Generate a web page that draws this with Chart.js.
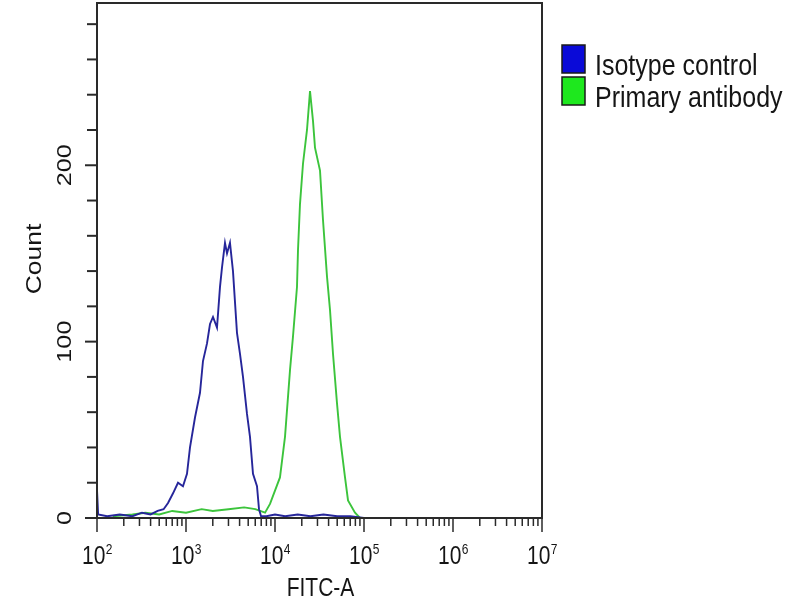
<!DOCTYPE html>
<html>
<head>
<meta charset="utf-8">
<script src="https://cdn.jsdelivr.net/npm/chart.js@4"></script>
<style>
  body { margin: 0; background: #fff; }
  canvas { display: block; }
</style>
</head>
<body>
<canvas id="chart" width="800" height="600"></canvas>
<script>
// Histogram data (FITC-A intensity, count)
const isoX = [100, 103, 130, 180, 250, 320, 400, 480, 560, 628, 715, 813, 925, 1026, 1109, 1262, 1436, 1552, 1722, 1861, 2011, 2230, 2410, 2537, 2742, 2890, 3120, 3372, 3740, 4043, 4369, 4845, 5236, 5659, 6276, 6610, 6970, 8000, 10000, 13000, 18000, 25000, 35000, 50000, 70000, 100000];
const isoY = [16, 2, 1, 2, 1, 3, 2, 4, 5, 8.5, 14, 20, 18, 25, 40, 57, 71, 89, 99, 110, 114, 108, 131, 142, 156, 150, 156, 140, 105, 93, 80, 59, 46, 25, 18, 5, 1, 1, 2, 1, 2, 1, 2, 1, 1, 0];

const priX = [150, 250, 350, 500, 700, 1000, 1500, 2000, 3000, 4500, 6000, 7730, 8790, 11370, 12950, 14750, 15930, 17660, 18130, 19090, 20640, 22880, 24740, 26740, 28140, 32040, 34620, 38380, 41490, 44860, 49740, 53750, 61190, 66130, 79230, 90200, 120000];
const priY = [1, 2, 3, 2, 4, 3, 5, 4, 5, 6, 5, 3, 8, 23, 46, 84, 103, 131, 152, 178, 201, 220, 242, 225, 210, 197, 169, 137, 118, 93, 65, 46, 23, 10, 3, 0, 0];

const seriesNames = ['Isotype control', 'Primary antibody'];
const lineColors = ['#26269a', '#3cc43c'];
const boxColors = ['#0a0ad8', '#1ee81e'];

const xDecades = [2, 3, 4, 5, 6, 7];   // tick labels 10^n
const yMinorTicks = [0, 20, 40, 60, 80, 100, 120, 140, 160, 180, 200, 220, 240, 260, 280];
const yLabels = [0, 100, 200];
const xTitle = 'FITC-A';
const yTitle = 'Count';

const FONT = '"Liberation Sans", Arial, sans-serif';
const STRETCH = 1.2; // text in the picture is stretched vertically

const supDigits = {2: '2', 3: '3', 4: '4', 5: '5', 6: '6', 7: '7'};

// draws the frame, ticks, labels and legend by hand
const axesPlugin = {
    id: 'axesPlugin',
    afterDraw(chart) {
        const ctx = chart.ctx;
        const area = chart.chartArea;
        const xs = chart.scales.x;
        const ys = chart.scales.y;
        ctx.save();
        ctx.strokeStyle = '#2a2a2a';
        ctx.fillStyle = '#151515';
        ctx.lineWidth = 2;
        ctx.strokeRect(area.left, area.top, area.right - area.left, area.bottom - area.top);

        // y ticks
        ctx.lineWidth = 2;
        yMinorTicks.forEach(v => {
            const y = ys.getPixelForValue(v);
            const len = yLabels.includes(v) ? 12 : 10;
            ctx.beginPath();
            ctx.moveTo(area.left - len, y);
            ctx.lineTo(area.left, y);
            ctx.stroke();
        });
        // y labels, rotated
        ctx.font = '21px ' + FONT;
        ctx.textAlign = 'center';
        ctx.textBaseline = 'middle';
        yLabels.forEach(v => {
            const y = ys.getPixelForValue(v);
            ctx.save();
            ctx.translate(65, y);
            ctx.scale(1, STRETCH);
            ctx.rotate(-Math.PI / 2);
            ctx.fillText(String(v), 0, 0);
            ctx.restore();
        });

        // x ticks: decades long, 2..9 short
        ctx.lineWidth = 1.5;
        xDecades.forEach(n => {
            const base = Math.pow(10, n);
            let x = xs.getPixelForValue(base);
            ctx.beginPath();
            ctx.moveTo(x, area.bottom);
            ctx.lineTo(x, area.bottom + 14);
            ctx.stroke();
            if (n === xDecades[xDecades.length - 1]) return;
            for (let m = 2; m <= 9; m++) {
                x = xs.getPixelForValue(base * m);
                ctx.beginPath();
                ctx.moveTo(x, area.bottom);
                ctx.lineTo(x, area.bottom + 8);
                ctx.stroke();
            }
        });
        // x labels 10^n
        ctx.textAlign = 'left';
        ctx.textBaseline = 'alphabetic';
        xDecades.forEach(n => {
            const x = xs.getPixelForValue(Math.pow(10, n));
            ctx.save();
            ctx.translate(x - 15, 564);
            ctx.scale(1, STRETCH);
            ctx.font = '21px ' + FONT;
            ctx.fillText('10', 0, 0);
            const w = ctx.measureText('10').width;
            ctx.font = '12px ' + FONT;
            ctx.fillText(supDigits[n], w + 0.5, -8);
            ctx.restore();
        });

        // axis titles
        ctx.font = '21px ' + FONT;
        ctx.textAlign = 'center';
        ctx.save();
        ctx.translate((area.left + area.right) / 2 + 1, 596);
        ctx.scale(1, STRETCH);
        ctx.fillText(xTitle, 0, 0);
        ctx.restore();

        ctx.textBaseline = 'middle';
        ctx.save();
        ctx.translate(35, 259);
        ctx.scale(1, STRETCH);
        ctx.rotate(-Math.PI / 2);
        ctx.font = '22px ' + FONT;
        ctx.fillText(yTitle, 0, 0);
        ctx.restore();

        // legend
        ctx.textAlign = 'left';
        ctx.textBaseline = 'alphabetic';
        seriesNames.forEach((name, i) => {
            const top = 45 + i * 32;
            ctx.fillStyle = boxColors[i];
            ctx.fillRect(562, top, 23, 28);
            ctx.strokeStyle = '#1a1a1a';
            ctx.lineWidth = 1.5;
            ctx.strokeRect(562, top, 23, 28);
            ctx.fillStyle = '#151515';
            ctx.save();
            ctx.translate(595, top + 30);
            ctx.scale(1, STRETCH);
            ctx.font = '25px ' + FONT;
            ctx.fillText(name, 0, 0);
            ctx.restore();
        });
        ctx.restore();
    }
};

const ctxEl = document.getElementById('chart').getContext('2d');
const chart = new Chart(ctxEl, {
    type: 'line',
    data: {
        datasets: [{
            label: seriesNames[0],
            data: isoX.map((x, i) => ({x: x, y: isoY[i]})),
            borderColor: lineColors[0],
            borderWidth: 1.9,
            pointRadius: 0,
            tension: 0,
            fill: false
        }, {
            label: seriesNames[1],
            data: priX.map((x, i) => ({x: x, y: priY[i]})),
            borderColor: lineColors[1],
            borderWidth: 1.9,
            pointRadius: 0,
            tension: 0,
            fill: false
        }]
    },
    options: {
        responsive: false,
        animation: false,
        layout: {
            padding: {left: 97, right: 258, top: 3, bottom: 82}
        },
        plugins: {
            legend: {display: false},
            tooltip: {enabled: false}
        },
        scales: {
            x: {type: 'logarithmic', min: 100, max: 10000000, display: false},
            y: {type: 'linear', min: 0, max: 292, display: false}
        }
    },
    plugins: [axesPlugin]
});
</script>
</body>
</html>
